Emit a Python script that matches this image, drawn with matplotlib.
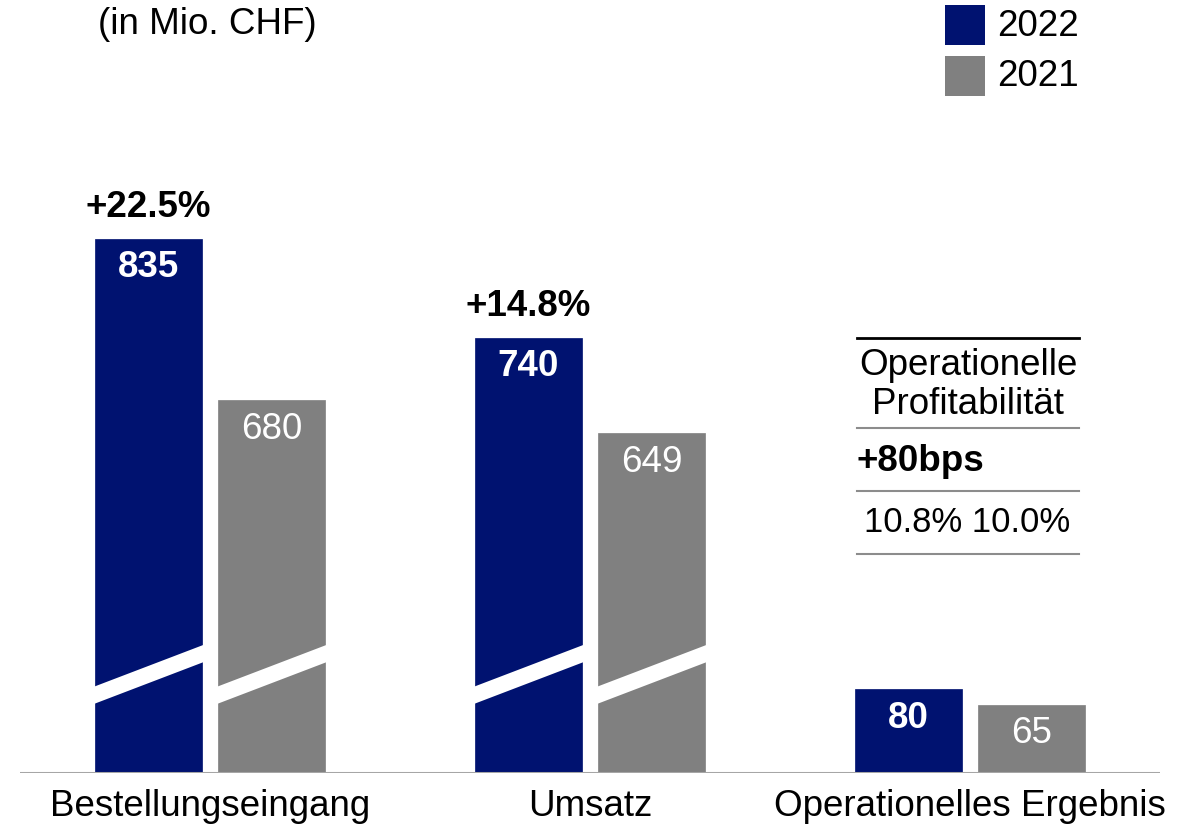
import matplotlib
matplotlib.use("Agg")
import matplotlib.pyplot as plt
from matplotlib.patches import Rectangle, Polygon
from matplotlib.lines import Line2D

plt.rcParams['font.family'] = ['Liberation Sans', 'DejaVu Sans']

# ---- data ----
categories = ["Bestellungseingang", "Umsatz", "Operationelles Ergebnis"]
values_2022 = [835, 740, 80]
values_2021 = [680, 649, 65]
growth_labels = ["+22.5%", "+14.8%", None]
broken = [True, True, False]
series_labels = ["2022", "2021"]
unit_label = "(in Mio. CHF)"
table_rows = ["Operationelle\nProfitabilität", "+80bps", "10.8% 10.0%"]

# ---- style ----
BLUE = "#001270"
GRAY = "#808080"
AXIS_BREAK = 324          # value hidden by the axis break on broken bars
FS = 26.5
W, H = 1193, 826

fig = plt.figure(figsize=(W / 100, H / 100), dpi=100)

def fx(px):
    return px / W

def fy(py):
    return 1 - py / H

base_px = 772.5
ax = fig.add_axes([fx(20), fy(base_px), fx(1160) - fx(20), fy(0) - fy(base_px)])
ax.set_xlim(-0.5, 2.5)
ax.set_ylim(0, base_px / 1.045)
ax.axis("off")
ax.axhline(0, color="#A6A6A6", lw=2.2, zorder=5)

bw = 0.282
off = 0.162
for i, cat in enumerate(categories):
    for val, col, dx, bold, in ((values_2022[i], BLUE, -off, True),
                                (values_2021[i], GRAY, off, False)):
        shown = val - AXIS_BREAK if broken[i] else val
        x = i + dx
        ax.bar(x, shown, width=bw, color=col, edgecolor=col, lw=0.5, zorder=2)
        ax.annotate(str(val), (x, shown), xytext=(0, -21), textcoords="offset points",
                    ha="center", va="center", color="white", fontsize=FS,
                    fontweight="bold" if bold else "normal", zorder=4)
        if broken[i]:
            l, r = x - bw / 2 - 0.003, x + bw / 2 + 0.003
            y0, y1, th = 82, 122, 16.5
            ax.add_patch(Polygon([(l, y0), (r, y1), (r, y1 - th), (l, y0 - th)],
                                 closed=True, facecolor="white", edgecolor="none", zorder=3))
    if growth_labels[i]:
        top = values_2022[i] - AXIS_BREAK if broken[i] else values_2022[i]
        ax.annotate(growth_labels[i], (i - off, top), xytext=(0, 10), textcoords="offset points",
                    ha="center", va="bottom", fontsize=FS, fontweight="bold")
    fig.text(fx(210 + 380 * i), fy(806), cat, ha="center", va="center", fontsize=FS)

# unit label
fig.text(fx(207), fy(25), unit_label, ha="center", va="center", fontsize=FS)

# legend
for k, (lab, col) in enumerate(zip(series_labels, (BLUE, GRAY))):
    top = 5 + 51 * k
    fig.patches.append(Rectangle((fx(945), fy(top + 40)), fx(40), fy(top) - fy(top + 40),
                                 transform=fig.transFigure, facecolor=col, edgecolor="none"))
    fig.text(fx(997), fy(top + 21), lab, ha="left", va="center", fontsize=FS)

# profitability table
lx0, lx1 = fx(857), fx(1079)
fig.lines.append(Line2D([lx0, lx1], [fy(338), fy(338)], transform=fig.transFigure, color="black", lw=2))
for yy in (428, 491, 554):
    fig.lines.append(Line2D([lx0, lx1], [fy(yy), fy(yy)], transform=fig.transFigure, color="#8C8C8C", lw=1.5))
fig.text(fx(968), fy(385), table_rows[0], ha="center", va="center", fontsize=FS, linespacing=1.16)
fig.text(fx(857), fy(462), table_rows[1], ha="left", va="center", fontsize=FS, fontweight="bold")
fig.text(fx(967), fy(523), table_rows[2], ha="center", va="center", fontsize=FS * 0.94)

fig.savefig("out.png", dpi=100)
